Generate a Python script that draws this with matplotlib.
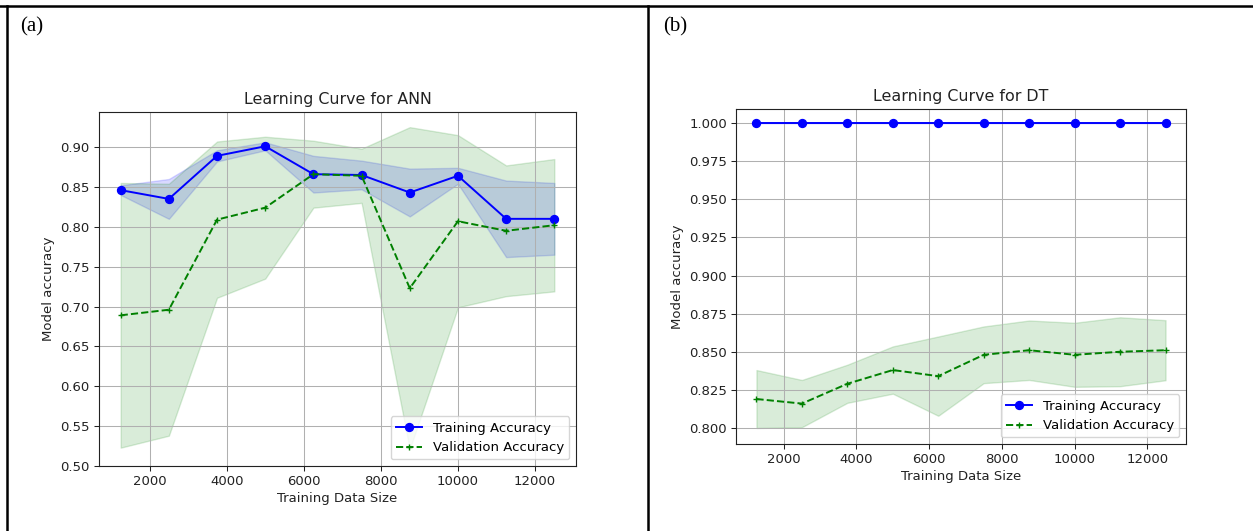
import numpy as np
import matplotlib
matplotlib.use("Agg")
import matplotlib.pyplot as plt
from matplotlib.lines import Line2D

# training set sizes used in both learning curves
sizes = [1250, 2500, 3750, 5000, 6250, 7500, 8750, 10000, 11250, 12500]

# (a) ANN
annTrainMean = [0.846, 0.835, 0.889, 0.901, 0.866, 0.865, 0.843, 0.864, 0.810, 0.810]
annTrainStd = [0.006, 0.025, 0.007, 0.005, 0.023, 0.018, 0.030, 0.010, 0.048, 0.045]
annValMean = [0.689, 0.696, 0.809, 0.824, 0.866, 0.864, 0.723, 0.807, 0.795, 0.802]
annValStd = [0.166, 0.158, 0.098, 0.089, 0.042, 0.034, 0.202, 0.108, 0.082, 0.083]

# (b) DT
dtTrainMean = [1.0, 1.0, 1.0, 1.0, 1.0, 1.0, 1.0, 1.0, 1.0, 1.0]
dtTrainStd = [0.0, 0.0, 0.0, 0.0, 0.0, 0.0, 0.0, 0.0, 0.0, 0.0]
dtValMean = [0.819, 0.816, 0.829, 0.838, 0.834, 0.848, 0.851, 0.848, 0.850, 0.851]
dtValStd = [0.019, 0.0155, 0.0125, 0.0155, 0.026, 0.0186, 0.0195, 0.021, 0.0226, 0.0197]

panelLabels = ["(a)", "(b)"]
titles = ["Learning Curve for ANN", "Learning Curve for DT"]

W, H = 1253, 531
fig = plt.figure(figsize=(W / 100, H / 100), dpi=100)

fs = 9.5  # the embedded plots are a bit smaller than native size


def learningCurve(ax, trainMean, trainStd, valMean, valStd, title):
    trainMean = np.array(trainMean)
    trainStd = np.array(trainStd)
    valMean = np.array(valMean)
    valStd = np.array(valStd)
    ax.plot(sizes, trainMean, color='blue', marker='o', markersize=5.7,
            linewidth=1.4, label='Training Accuracy')
    ax.fill_between(sizes, trainMean + trainStd, trainMean - trainStd,
                    alpha=0.15, color='blue')
    ax.plot(sizes, valMean, color='green', linestyle='--', marker='+',
            markersize=5, linewidth=1.4, label='Validation Accuracy')
    ax.fill_between(sizes, valMean + valStd, valMean - valStd,
                    alpha=0.15, color='green')
    ax.set_title(title, fontsize=11.4, color='#222222', pad=5.5)
    ax.set_xlabel('Training Data Size', fontsize=fs, color='#222222', labelpad=3)
    ax.set_ylabel('Model accuracy', fontsize=fs, color='#222222', labelpad=3.5)
    ax.grid(True, color='#b0b0b0', linewidth=0.75)
    ax.tick_params(labelsize=fs, colors='#222222', length=3.3, width=0.75, pad=3.3)
    for s in ax.spines.values():
        s.set_linewidth(0.8)
        s.set_color('#222222')
    ax.legend(loc='lower right', fontsize=fs, framealpha=0.8)


ax1 = fig.add_axes([99 / W, 1 - 466 / H, 477 / W, 354 / H])
learningCurve(ax1, annTrainMean, annTrainStd, annValMean, annValStd, titles[0])
ax1.set_xlim(687.5, 13062.5)
ax1.set_ylim(0.501, 0.944)
ax1.set_yticks([0.50, 0.55, 0.60, 0.65, 0.70, 0.75, 0.80, 0.85, 0.90])

ax2 = fig.add_axes([736 / W, 1 - 444 / H, 450 / W, 335 / H])
learningCurve(ax2, dtTrainMean, dtTrainStd, dtValMean, dtValStd, titles[1])
ax2.set_xlim(687.5, 13062.5)
ax2.set_ylim(0.7895, 1.0092)
ax2.set_yticks([0.800, 0.825, 0.850, 0.875, 0.900, 0.925, 0.950, 0.975, 1.000])
ax2.yaxis.set_major_formatter(matplotlib.ticker.FormatStrFormatter('%.3f'))

# table borders around the two panels
fig.add_artist(Line2D([0, 1], [1 - 6 / H, 1 - 6 / H], color='black', linewidth=1.8))
fig.add_artist(Line2D([7 / W, 7 / W], [0, 1 - 6 / H], color='black', linewidth=1.8))
fig.add_artist(Line2D([648 / W, 648 / W], [0, 1 - 6 / H], color='black', linewidth=1.8))

fig.text(20 / W, 1 - 27 / H, panelLabels[0], fontsize=15, family='Liberation Serif', va='center')
fig.text(663 / W, 1 - 27 / H, panelLabels[1], fontsize=15, family='Liberation Serif', va='center')

fig.savefig('out.png', dpi=100)
